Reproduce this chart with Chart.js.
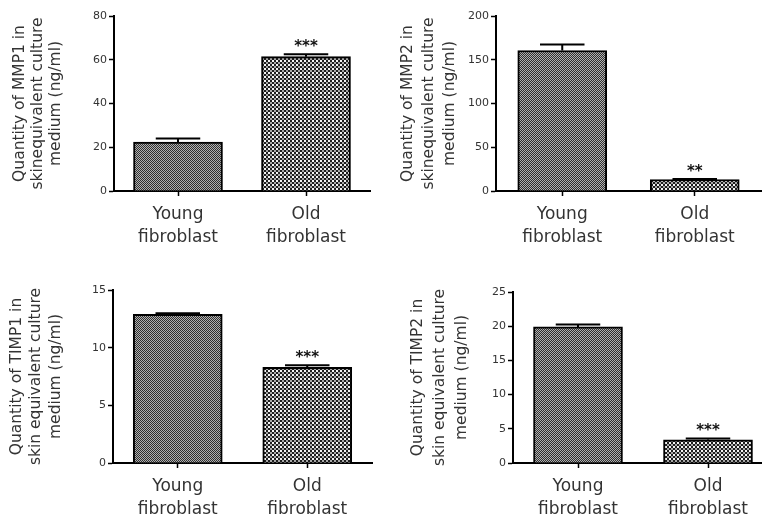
<!DOCTYPE html>
<html>
<head>
<meta charset="utf-8">
<script src="https://cdn.jsdelivr.net/npm/chart.js@4.4.1/dist/chart.umd.min.js"></script>
<style>
  html, body { margin: 0; padding: 0; background: #fff; overflow: hidden; }
  #wrap { position: relative; width: 762px; height: 524px; overflow: hidden; background: #fff; }
  canvas { position: absolute; }
</style>
</head>
<body>
<div id="wrap">
  <canvas id="mmp1" width="381" height="262" style="left:0;top:0"></canvas>
  <canvas id="mmp2" width="381" height="262" style="left:381px;top:0"></canvas>
  <canvas id="timp1" width="381" height="262" style="left:0;top:262px"></canvas>
  <canvas id="timp2" width="400" height="262" style="left:381px;top:262px"></canvas>
</div>
<script>
// groups on the x axis
const categories = [["Young", "fibroblast"], ["Old", "fibroblast"]];

// MMP1 (ng/ml), mean and SEM
const mmp1Mean = [22.4, 61.4];
const mmp1Sem = [1.6, 1.1];
const mmp1Sig = ["", "***"];
const mmp1Ticks = [0, 20, 40, 60, 80];

// MMP2 (ng/ml)
const mmp2Mean = [160.6, 13.0];
const mmp2Sem = [6.8, 0.8];
const mmp2Sig = ["", "**"];
const mmp2Ticks = [0, 50, 100, 150, 200];

// TIMP1 (ng/ml)
const timp1Mean = [12.9, 8.3];
const timp1Sem = [0.08, 0.17];
const timp1Sig = ["", "***"];
const timp1Ticks = [0, 5, 10, 15];

// TIMP2 (ng/ml)
const timp2Mean = [19.9, 3.4];
const timp2Sem = [0.35, 0.2];
const timp2Sig = ["", "***"];
const timp2Ticks = [0, 5, 10, 15, 20, 25];

const FONT = "'DejaVu Sans', 'Liberation Sans', sans-serif";
const TEXT = "#333";

// hatch fills for the two groups
function makePattern(size, draw) {
    const c = document.createElement("canvas");
    c.width = size;
    c.height = size;
    const g = c.getContext("2d");
    draw(g);
    return g.createPattern(c, "repeat");
}

const finePattern = makePattern(2, function (g) {
    g.fillStyle = "#b2b2b2";
    g.fillRect(0, 0, 2, 2);
    g.fillStyle = "#303030";
    g.fillRect(0, 0, 1, 1);
    g.fillRect(1, 1, 1, 1);
});

const coarsePattern = makePattern(4, function (g) {
    g.fillStyle = "#1e1e1e";
    g.fillRect(0, 0, 4, 4);
    g.fillStyle = "#f4f4f4";
    g.fillRect(0, 0, 2, 2);
    g.fillStyle = "#a8a8a8";
    g.fillRect(2, 2, 2, 2);
});

// SEM whiskers (upper half only) and significance stars
const errorBars = {
    id: "errorBars",
    afterDatasetsDraw(chart, args, opts) {
        const ctx = chart.ctx;
        const meta = chart.getDatasetMeta(0);
        const y = chart.scales.y;
        ctx.save();
        ctx.strokeStyle = "#000";
        ctx.lineWidth = 2;
        opts.mean.forEach(function (m, i) {
            const bar = meta.data[i];
            const x = bar.x;
            const y0 = y.getPixelForValue(m);
            const y1 = y.getPixelForValue(m + opts.sem[i]);
            const half = bar.width / 4;
            ctx.beginPath();
            ctx.moveTo(x, y0);
            ctx.lineTo(x, y1);
            ctx.moveTo(x - half, y1);
            ctx.lineTo(x + half, y1);
            ctx.stroke();
            if (opts.sig[i]) {
                ctx.fillStyle = "#111";
                ctx.font = "bold 15px " + FONT;
                ctx.textAlign = "center";
                ctx.textBaseline = "alphabetic";
                ctx.fillText(opts.sig[i], x, y1 - 3);
            }
        });
        ctx.restore();
    },
};

function makePanel(id, mean, sem, sig, ticks, title, area, titleStyle) {
    const canvas = document.getElementById(id);
    const w = canvas.width;
    const h = canvas.height;
    return new Chart(canvas, {
        type: "bar",
        data: {
            labels: categories,
            datasets: [
                {
                    data: mean,
                    backgroundColor: [finePattern, coarsePattern],
                    borderColor: "#000",
                    borderWidth: 2,
                    barThickness: 89,
                },
            ],
        },
        options: {
            responsive: false,
            animation: false,
            devicePixelRatio: 1,
            layout: {
                padding: { left: 0, top: area.top, right: w - area.right, bottom: 0 },
            },
            plugins: {
                legend: { display: false },
                tooltip: { enabled: false },
                errorBars: { mean: mean, sem: sem, sig: sig },
            },
            scales: {
                x: {
                    grid: {
                        offset: false,
                        drawOnChartArea: false,
                        tickLength: 5,
                        tickColor: "#000",
                        tickWidth: 1.5,
                    },
                    border: { color: "#000", width: 2 },
                    ticks: {
                        padding: 7,
                        color: TEXT,
                        font: { family: FONT, size: 17, lineHeight: "23px" },
                        maxRotation: 0,
                    },
                    afterFit: function (scale) {
                        scale.height = h - area.bottom;
                    },
                },
                y: {
                    min: ticks[0],
                    max: ticks[ticks.length - 1],
                    grid: {
                        drawOnChartArea: false,
                        tickLength: 5,
                        tickColor: "#000",
                        tickWidth: 1.5,
                    },
                    border: { color: "#000", width: 2 },
                    ticks: {
                        stepSize: ticks[1] - ticks[0],
                        padding: 2,
                        color: TEXT,
                        font: { family: FONT, size: 11 },
                    },
                    title: {
                        display: true,
                        text: title,
                        color: TEXT,
                        font: { family: FONT, size: 15.5, lineHeight: titleStyle.lh + "px" },
                        padding: { top: titleStyle.pad, bottom: 0 },
                    },
                    afterFit: function (scale) {
                        scale.width = area.left;
                    },
                },
            },
        },
        plugins: [errorBars],
    });
}

makePanel("mmp1", mmp1Mean, mmp1Sem, mmp1Sig, mmp1Ticks,
    ["Quantity of MMP1 in", "skinequivalent culture", "medium (ng/ml)"],
    { left: 114, top: 16, right: 370, bottom: 191 }, { lh: 18, pad: 11 });

makePanel("mmp2", mmp2Mean, mmp2Sem, mmp2Sig, mmp2Ticks,
    ["Quantity of MMP2 in", "skinequivalent culture", "medium (ng/ml)"],
    { left: 115, top: 16, right: 380, bottom: 191 }, { lh: 21, pad: 16.5 });

makePanel("timp1", timp1Mean, timp1Sem, timp1Sig, timp1Ticks,
    ["Quantity of TIMP1 in", "skin equivalent culture", "medium (ng/ml)"],
    { left: 113, top: 28, right: 372, bottom: 201 }, { lh: 19.5, pad: 7 });

makePanel("timp2", timp2Mean, timp2Sem, timp2Sig, timp2Ticks,
    ["Quantity of TIMP2 in", "skin equivalent culture", "medium (ng/ml)"],
    { left: 132, top: 30, right: 392, bottom: 201 }, { lh: 22, pad: 26 });
</script>
</body>
</html>
